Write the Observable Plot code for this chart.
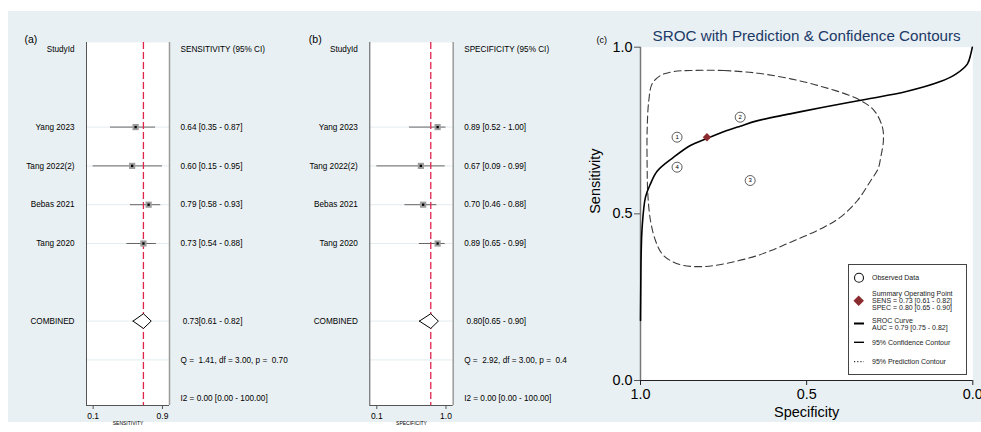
<!DOCTYPE html>
<html><head><meta charset="utf-8">
<script src="https://cdn.jsdelivr.net/npm/d3@7"></script>
<script src="https://cdn.jsdelivr.net/npm/@observablehq/plot@0.6"></script>
<style>
html,body{margin:0;padding:0;background:#fff;}
#wrap{position:relative;width:981px;height:432px;overflow:hidden;font-family:"Liberation Sans",Arial,sans-serif;}
#bg{position:absolute;left:8px;top:11px;width:973px;height:411px;background:#e9f0f3;}
.panel{position:absolute;top:0;height:432px;overflow:hidden;}
.panel svg text{white-space:pre;}
#legend{position:absolute;left:848px;top:264px;}
</style></head><body>
<div id="wrap"><div id="bg"></div>
<div class="panel" id="pa" style="left:0;width:300px"></div>
<div class="panel" id="pb" style="left:290px;width:277px"></div>
<div class="panel" id="pc" style="left:575px;width:406px"></div>
<div id="legend"></div>
</div>
<script>
// ---------- data ----------
const studies = ["Yang 2023", "Tang 2022(2)", "Bebas 2021", "Tang 2020"];
const studyNumbers = [4, 3, 2, 1];
const sens = [0.64, 0.60, 0.79, 0.73];
const sensLo = [0.35, 0.15, 0.58, 0.54];
const sensHi = [0.87, 0.95, 0.93, 0.88];
const spec = [0.89, 0.67, 0.70, 0.89];
const specLo = [0.52, 0.09, 0.46, 0.65];
const specHi = [1.00, 0.99, 0.88, 0.99];
const pooledSens = [0.73, 0.61, 0.82];
const pooledSpec = [0.80, 0.65, 0.90];
const auc = [0.79, 0.75, 0.82];
const sensQ = "Q =  1.41, df = 3.00, p =  0.70";
const specQ = "Q =  2.92, df = 3.00, p =  0.40";
const sensI2 = "I2 = 0.00 [0.00 - 100.00]";
const specI2 = "I2 = 0.00 [0.00 - 100.00]";
const sensTicks = [0.15, 0.95];
const sensTickLabels = ["0.1", "0.9"];
const specTicks = [0.09, 1.00];
const specTickLabels = ["0.1", "1.0"];
const srocTicks = [0, 0.5, 1];
// SROC curve (specificity, sensitivity)
const srocSpec = [1.0, 0.999, 0.998, 0.995, 0.985, 0.97, 0.95, 0.90, 0.85, 0.80, 0.75, 0.70, 0.65, 0.55, 0.45, 0.32, 0.20, 0.10, 0.05, 0.016, 0.006, 0.0015];
const srocSens = [0.18, 0.30, 0.38, 0.46, 0.55, 0.59, 0.628, 0.67, 0.705, 0.726, 0.746, 0.763, 0.779, 0.800, 0.820, 0.844, 0.867, 0.896, 0.92, 0.95, 0.98, 1.0];
// 95% confidence contour
const contourSpec = [0.849, 0.749, 0.648, 0.548, 0.448, 0.347, 0.297, 0.272, 0.269, 0.277, 0.285, 0.307, 0.347, 0.398, 0.448, 0.548, 0.648, 0.749, 0.809, 0.870, 0.910, 0.935, 0.955, 0.970, 0.978, 0.980, 0.980, 0.975, 0.965, 0.940, 0.900];
const contourSens = [0.930, 0.930, 0.922, 0.905, 0.880, 0.845, 0.810, 0.760, 0.720, 0.670, 0.635, 0.600, 0.540, 0.490, 0.460, 0.415, 0.375, 0.350, 0.342, 0.345, 0.360, 0.380, 0.420, 0.480, 0.560, 0.640, 0.750, 0.840, 0.890, 0.915, 0.927];

// ---------- layout ----------
const FONT = '"Liberation Sans", Arial, sans-serif';
const headerRow = 0, combinedRow = 7, qRow = 8, i2Row = 9;
const studyRowIdx = [2, 3, 4, 5];
const gridRows = [2, 3, 4, 5, 7, 8];
const yDomainF = [9.175, -0.18];
const f2 = d3.format(".2f");

function forest(o) {
  const rows = studies.map((s, i) => ({
    label: s, row: studyRowIdx[i], est: o.est[i], lo: o.lo[i], hi: o.hi[i],
    txt: `${f2(o.est[i])} [${f2(o.lo[i])} - ${f2(o.hi[i])}]`
  }));
  const [pe, pl, ph] = o.pooled;
  const dh = 0.19;
  const diamond = [[pl, 0], [pe, -dh], [ph, 0], [pe, dh], [pl, 0]].map(([x, d]) => ({x, y: combinedRow + d}));
  const leftText = [{row: headerRow, t: "StudyId"}, ...rows.map(r => ({row: r.row, t: r.label})), {row: combinedRow, t: "COMBINED"}];
  const rightText = [{row: headerRow, t: o.header}, ...rows.map(r => ({row: r.row, t: r.txt})),
    {row: combinedRow, t: " " + f2(pe) + "[" + f2(pl) + " - " + f2(ph) + "]"},
    {row: qRow, t: o.q}, {row: i2Row, t: o.i2}];
  const tickMap = new Map(o.ticks.map((t, i) => [t, o.tickLabels[i]]));
  return Plot.plot({
    width: o.width, height: 432,
    marginLeft: o.ml, marginRight: o.mr, marginTop: 42, marginBottom: 27,
    x: {domain: o.xDomain, axis: null},
    y: {domain: yDomainF, axis: null},
    style: {background: "transparent", fontFamily: FONT, overflow: "visible"},
    marks: [
      Plot.frame({fill: "white", stroke: null}),
      Plot.ruleY(gridRows, {stroke: "#e3ebee", strokeWidth: 1}),
      Plot.ruleX([o.xDomain[0]], {stroke: "#555", strokeWidth: 1}),
      Plot.ruleX([o.xDomain[1]], {stroke: "#9a9a9a", strokeWidth: 1.5}),
      Plot.ruleY([yDomainF[0]], {stroke: "#555", strokeWidth: 1}),
      Plot.ruleY(rows, {y: "row", x1: "lo", x2: "hi", stroke: "#666", strokeWidth: 1}),
      Plot.ruleX([pe], {stroke: "#e0244c", strokeWidth: 1.3, strokeDasharray: "7,3"}),
      Plot.dot(rows, {x: "est", y: "row", symbol: "square", r: 3.5, fill: "#9d9d9d"}),
      Plot.dot(rows, {x: "est", y: "row", symbol: "square", r: 1.3, fill: "#000"}),
      Plot.line(diamond, {x: "x", y: "y", stroke: "#000", strokeWidth: 1, fill: "white"}),
      Plot.text(leftText, {y: "row", text: "t", frameAnchor: "left", textAnchor: "end", dx: -12, fontSize: 8.2}),
      Plot.text(rightText, {y: "row", text: "t", frameAnchor: "right", textAnchor: "start", dx: 11, fontSize: 8.2}),
      Plot.axisX(o.ticks, {tickFormat: d => tickMap.get(d), tickSize: 4, tickPadding: 3, fontSize: 8.5, label: null, stroke: "#555"}),
      Plot.text([o.axisLabel], {frameAnchor: "bottom", dy: 18, fontSize: 5, lineAnchor: "middle"}),
      Plot.text([o.panel], {frameAnchor: "top-left", textAnchor: "start", lineAnchor: "middle", dx: o.pdx, dy: -3, fontSize: 10.5})
    ]
  });
}

document.getElementById("pa").append(forest({
  est: sens, lo: sensLo, hi: sensHi, pooled: pooledSens, header: "SENSITIVITY (95% CI)",
  q: sensQ, i2: sensI2, ticks: sensTicks, tickLabels: sensTickLabels,
  xDomain: [0.073, 1.031], axisLabel: "SENSITIVITY", panel: "(a)",
  width: 300, ml: 86, mr: 131, pdx: -62
}));
document.getElementById("pb").append(forest({
  est: spec, lo: specLo, hi: specHi, pooled: pooledSpec, header: "SPECIFICITY (95% CI)",
  q: specQ, i2: specI2, ticks: specTicks, tickLabels: specTickLabels,
  xDomain: [-0.002, 1.095], axisLabel: "SPECIFICITY", panel: "(b)",
  width: 277, ml: 79.3, mr: 114.3, pdx: -61
}));

// ---------- SROC panel ----------
const obs = studies.map((s, i) => ({spec: spec[i], sens: sens[i], n: String(studyNumbers[i])}));
const sroc = srocSpec.map((s, i) => ({spec: s, sens: srocSens[i]}));
const contour = contourSpec.map((s, i) => ({spec: s, sens: contourSens[i]}));
const f1 = d3.format(".1f");

document.getElementById("pc").append(Plot.plot({
  width: 406, height: 432,
  marginLeft: 65, marginRight: 8.7, marginTop: 46.7, marginBottom: 52,
  x: {domain: [1, 0], axis: null},
  y: {domain: [0, 1], axis: null},
  style: {background: "transparent", fontFamily: FONT, overflow: "visible"},
  marks: [
    Plot.frame({fill: "white", stroke: null}),
    Plot.line(contour, {x: "spec", y: "sens", curve: "catmull-rom-closed", stroke: "#3a3a3a", strokeWidth: 1.1, strokeDasharray: "7,4"}),
    Plot.ruleX([1], {stroke: "#777", strokeWidth: 1.5}),
    Plot.ruleY([0], {stroke: "#222", strokeWidth: 1.2}),
    Plot.line(sroc, {x: "spec", y: "sens", curve: "catmull-rom", stroke: "#000", strokeWidth: 1.6}),
    Plot.dot(obs, {x: "spec", y: "sens", r: 5, fill: "white", stroke: "#333", strokeWidth: 0.8}),
    Plot.text(obs, {x: "spec", y: "sens", text: "n", fontSize: 6}),
    Plot.dot([{spec: pooledSpec[0], sens: pooledSens[0]}], {x: "spec", y: "sens", symbol: "diamond2", r: 3.8, fill: "#8b2b2f"}),
    Plot.axisX(srocTicks, {tickFormat: f1, tickSize: 5, tickPadding: 3, fontSize: 14.4, label: null, stroke: "#222"}),
    Plot.axisY(srocTicks, {tickFormat: f1, tickSize: 6, tickPadding: 2, fontSize: 14.4, label: null, stroke: "#555"}),
    Plot.text(["Sensitivity"], {frameAnchor: "left", rotate: -90, dx: -45, fontSize: 14.5}),
    Plot.text(["Specificity"], {frameAnchor: "bottom", dy: 32, fontSize: 14.5, lineAnchor: "middle"}),
    Plot.text(["SROC with Prediction & Confidence Contours"], {frameAnchor: "top", dy: -11, fontSize: 15.2, lineAnchor: "middle", fill: "#1b3a68"}),
    Plot.text(["(c)"], {frameAnchor: "top-left", textAnchor: "start", lineAnchor: "middle", dx: -44, dy: -7, fontSize: 9})
  ]
}));

// ---------- legend ----------
(function () {
  const W = 119, H = 111;
  const svg = d3.select("#legend").append("svg").attr("width", W).attr("height", H)
    .style("font-family", FONT).style("display", "block");
  svg.append("rect").attr("x", 0.5).attr("y", 0.5).attr("width", W - 1).attr("height", H - 1)
    .attr("fill", "white").attr("stroke", "#444").attr("stroke-width", 1);
  const fs = 7;
  const tx = 24;
  const addText = (lines, yc) => {
    const n = lines.length;
    lines.forEach((l, i) => svg.append("text").attr("x", tx).attr("y", yc + (i - (n - 1) / 2) * 7.2)
      .attr("dy", "0.35em").attr("font-size", fs).attr("fill", "#222").text(l));
  };
  svg.append("circle").attr("cx", 11).attr("cy", 13.7).attr("r", 4.5).attr("fill", "white").attr("stroke", "#111").attr("stroke-width", 1.1);
  addText(["Observed Data"], 13.7);
  svg.append("path").attr("d", d3.symbol(d3.symbolDiamond2, 70)()).attr("transform", "translate(10.7,36.7)").attr("fill", "#8b2b2f");
  addText(["Summary Operating Point",
    `SENS = ${f2(pooledSens[0])} [${f2(pooledSens[1])} - ${f2(pooledSens[2])}]`,
    `SPEC = ${f2(pooledSpec[0])} [${f2(pooledSpec[1])} - ${f2(pooledSpec[2])}]`], 36.5);
  svg.append("line").attr("x1", 6).attr("x2", 16).attr("y1", 59.5).attr("y2", 59.5).attr("stroke", "#000").attr("stroke-width", 2);
  addText(["SROC Curve", `AUC = ${f2(auc[0])} [${f2(auc[1])} - ${f2(auc[2])}]`], 60);
  svg.append("line").attr("x1", 6).attr("x2", 16).attr("y1", 78.3).attr("y2", 78.3).attr("stroke", "#000").attr("stroke-width", 1.4);
  addText(["95% Confidence Contour"], 78.3);
  svg.append("line").attr("x1", 6).attr("x2", 16).attr("y1", 97.7).attr("y2", 97.7).attr("stroke", "#000").attr("stroke-width", 1).attr("stroke-dasharray", "1.2,2");
  addText(["95% Prediction Contour"], 97.7);
})();
</script>
</body></html>
